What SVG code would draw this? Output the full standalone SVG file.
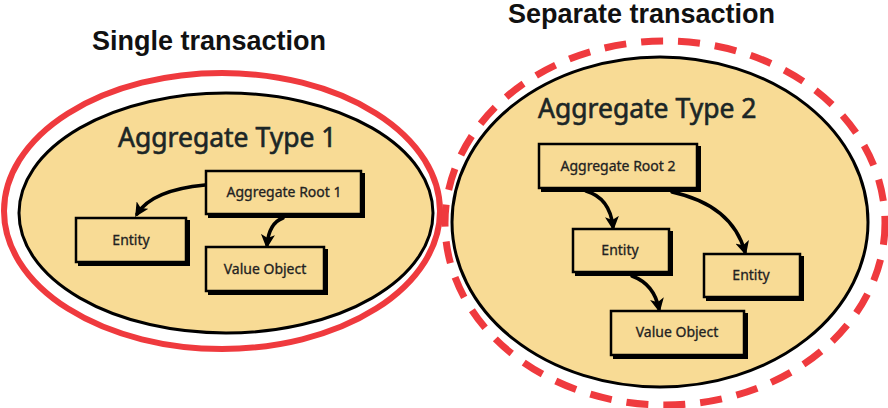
<svg xmlns="http://www.w3.org/2000/svg" width="888" height="408" viewBox="0 0 888 408">
<defs>
<style>
.head{font-family:"Liberation Sans",Arial,sans-serif;font-weight:bold;font-size:27px;fill:#111;}
.agg{font-family:"Noto Sans","DejaVu Sans",sans-serif;font-size:26.5px;fill:#1c2626;stroke:#1c2626;stroke-width:0.6;}
.lbl{font-family:"Noto Sans","DejaVu Sans",sans-serif;font-size:14px;fill:#222;stroke:#222;stroke-width:0.3;text-anchor:middle;}
.ell{fill:#F8DB95;stroke:#000;stroke-width:3;}
.box{fill:#F8DB95;stroke:#000;stroke-width:2.5;}
.shadow{fill:#000;}
.conn{fill:none;stroke:#000;stroke-width:3.5;stroke-linecap:round;}
.red{fill:none;stroke:#EF3A3E;stroke-width:6;}
.reddash{fill:none;stroke:#EF3A3E;stroke-width:7;stroke-dasharray:22 15;}
</style>
<marker id="ah" markerUnits="userSpaceOnUse" viewBox="0 0 12 12" refX="9" refY="6" markerWidth="14" markerHeight="14" orient="auto">
<path d="M0,0 L12,6 L0,12 L3,6 Z" fill="#000"/>
</marker>
</defs>
<rect width="888" height="408" fill="#fff"/>
<text class="head" x="92" y="50">Single transaction</text>
<text class="head" x="508" y="23">Separate transaction</text>

<g id="aggregate1">
<ellipse class="red" cx="222" cy="211" rx="218" ry="138"/>
<ellipse class="ell" cx="226" cy="213" rx="207" ry="120"/>
<text class="agg" x="118" y="147">Aggregate Type 1</text>
</g>
<g id="aggregate2">
<ellipse class="reddash" cx="665" cy="223" rx="220" ry="182"/>
<ellipse class="ell" cx="660" cy="222" rx="208" ry="165"/>
<text class="agg" x="538" y="118">Aggregate Type 2</text>
</g>

<g id="root1">
<rect class="shadow" x="208" y="173" width="157" height="45"/>
<rect class="box" x="206" y="171" width="155" height="43"/>
<text class="lbl" x="284" y="197">Aggregate Root 1</text>
</g>
<g id="entity1">
<rect class="shadow" x="78" y="220" width="112" height="46"/>
<rect class="box" x="76" y="218" width="110" height="44"/>
<text class="lbl" x="131" y="245">Entity</text>
</g>
<g id="value1">
<rect class="shadow" x="208" y="249" width="120" height="46"/>
<rect class="box" x="206" y="247" width="118" height="44"/>
<text class="lbl" x="265" y="274">Value Object</text>
</g>

<g id="root2">
<rect class="shadow" x="541" y="146" width="160" height="46"/>
<rect class="box" x="539" y="144" width="158" height="44"/>
<text class="lbl" x="618" y="171">Aggregate Root 2</text>
</g>
<g id="entity2a">
<rect class="shadow" x="575" y="231" width="98" height="45"/>
<rect class="box" x="573" y="229" width="96" height="43"/>
<text class="lbl" x="620" y="255">Entity</text>
</g>
<g id="entity2b">
<rect class="shadow" x="706" y="256" width="98" height="45"/>
<rect class="box" x="704" y="254" width="96" height="43"/>
<text class="lbl" x="751" y="280">Entity</text>
</g>
<g id="value2">
<rect class="shadow" x="613" y="313" width="135" height="46"/>
<rect class="box" x="611" y="311" width="133" height="44"/>
<text class="lbl" x="677" y="337">Value Object</text>
</g>

<g id="connectors">
<path class="conn" marker-end="url(#ah)" d="M205,185 Q152,190 137,214"/>
<path class="conn" marker-end="url(#ah)" d="M283,218 Q269,223 267,245"/>
<path class="conn" marker-end="url(#ah)" d="M586,191 Q610,198 613,227"/>
<path class="conn" marker-end="url(#ah)" d="M672,192 Q732,205 745,252"/>
<path class="conn" marker-end="url(#ah)" d="M632,276 Q654,284 659,309"/>
</g>
</svg>
